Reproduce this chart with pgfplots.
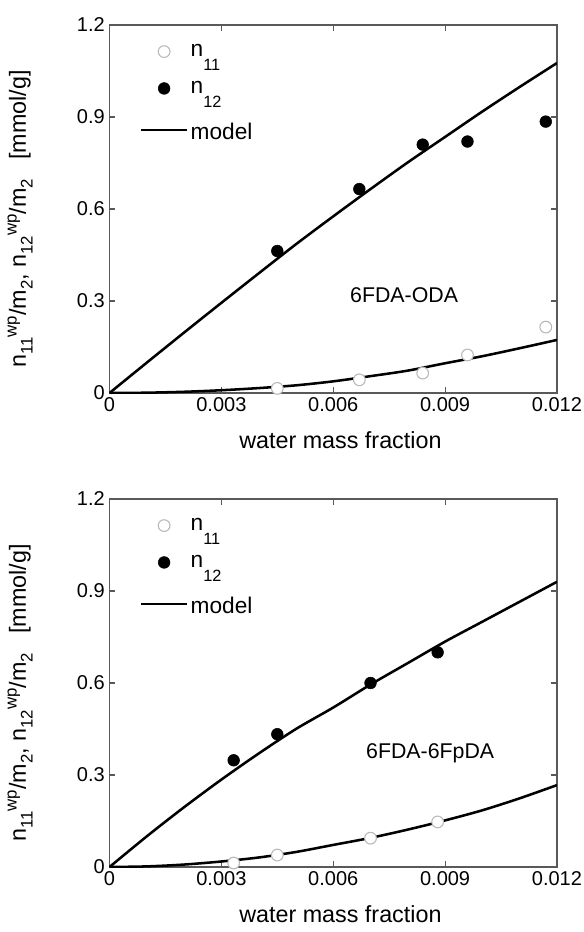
\documentclass[border=0pt]{standalone}
\usepackage{fontspec}
\setmainfont{Liberation Sans}
\newfontfamily\serifb{Liberation Serif}
\usepackage{graphicx}
\usepackage{pgfplots}
\pgfplotsset{compat=1.18}
\newcommand\sbs[1]{\raisebox{-0.55ex}{\scalebox{0.72}{#1}}}
\newcommand\sps[1]{\raisebox{0.75ex}{\scalebox{0.72}{#1}}}
\newcommand\lsb[1]{\raisebox{-0.62em}{\scalebox{0.72}{#1}}}
\pgfplotsset{
 panel/.style={
  width=335.6pt, height=276pt, scale only axis,
  xmin=0, xmax=0.012, ymin=0, ymax=1.2,
  xtick={0,0.003,0.006,0.009,0.012},
  xticklabels={0,0.003,0.006,0.009,0.012},
  ytick={0,0.3,0.6,0.9,1.2},
  yticklabels={0,0.3,0.6,0.9,1.2},
  scaled x ticks=false,
  tick align=inside, major tick length=4.5pt,
  axis line style={black!65, line width=0.9pt},
  every tick/.style={black!65, line width=0.9pt},
  tick label style={font=\fontsize{15}{18}\selectfont},
  label style={font=\fontsize{17.5}{21}\selectfont},
  xlabel={water mass fraction},
  ylabel={n\sbs{11}\sps{wp}/m\sbs{2}, n\sbs{12}\sps{wp}/m\sbs{2}~~~[mmol/g]},
  xlabel style={at={(axis description cs:0.516,-0.128)}, anchor=center},
  ylabel style={at={(axis description cs:-0.2,0.473)}, anchor=center},
  legend style={draw=none, fill=none, inner sep=0pt, at={(axis description cs:0.068,0.955)}, anchor=north west,
     font=\fontsize{17}{20}\selectfont, row sep=13pt},
  legend cell align=left,
 },
 openm/.style={only marks, mark=*, mark size=4.4pt, mark options={draw=black!28, fill=white, line width=0.8pt},
   legend image code/.code={\draw[mark repeat=2, mark phase=2, ##1] plot coordinates {(0pt,0pt) (17pt,0pt) (34pt,0pt)};}},
 fullm/.style={only marks, mark=*, mark size=4.4pt, mark options={draw=black, fill=black},
   legend image code/.code={\draw[mark repeat=2, mark phase=2, ##1] plot coordinates {(0pt,0pt) (17pt,0pt) (34pt,0pt)};}},
 modl/.style={black, line width=1.9pt, smooth, no marks,
   legend image code/.code={\draw[##1] (0pt,0pt) -- (34pt,0pt);}},
}
\begin{document}
\begin{tikzpicture}
\useasboundingbox (-82.125pt,294.75pt) rectangle (355.125pt,-404.25pt);
\begin{axis}[panel, at={(0pt,0pt)}, anchor=south west]
\addplot[openm] coordinates {(0.0045,0.015) (0.0067,0.043) (0.0084,0.065) (0.0096,0.124) (0.0117,0.215)};
\addlegendentry{n\lsb{11}}
\addplot[fullm] coordinates {(0.0045,0.463) (0.0067,0.665) (0.0084,0.81) (0.0096,0.82) (0.0117,0.885)};
\addlegendentry{n\lsb{12}}
\addplot[modl] coordinates {(0,0) (0.001,0.099) (0.002,0.197) (0.003,0.294) (0.004,0.39) (0.005,0.485) (0.006,0.576) (0.007,0.665) (0.008,0.752) (0.009,0.835) (0.010,0.918) (0.011,0.998) (0.012,1.076)};
\addlegendentry{\rule{0pt}{16pt}model}
\addplot[modl, forget plot] coordinates {(0,0) (0.001,0.001) (0.002,0.004) (0.003,0.009) (0.004,0.016) (0.005,0.025) (0.006,0.038) (0.007,0.055) (0.008,0.073) (0.009,0.097) (0.010,0.12) (0.011,0.146) (0.012,0.173)};
\node[font=\serifb\bfseries\fontsize{18}{21}\selectfont] at (axis description cs:-0.19,1.005) {(a)};
\node[font=\fontsize{16}{19}\selectfont] at (axis cs:0.0079,0.32) {6FDA-ODA};
\end{axis}
\begin{axis}[panel, at={(0pt,-355.5pt)}, anchor=south west]
\addplot[openm] coordinates {(0.00333,0.013) (0.0045,0.039) (0.007,0.094) (0.0088,0.147)};
\addlegendentry{n\lsb{11}}
\addplot[fullm] coordinates {(0.00333,0.348) (0.0045,0.433) (0.007,0.600) (0.0088,0.700)};
\addlegendentry{n\lsb{12}}
\addplot[modl] coordinates {(0,0) (0.001,0.1) (0.002,0.195) (0.003,0.285) (0.004,0.37) (0.005,0.45) (0.006,0.52) (0.007,0.595) (0.008,0.665) (0.009,0.735) (0.010,0.80) (0.011,0.865) (0.012,0.93)};
\addlegendentry{\rule{0pt}{16pt}model}
\addplot[modl, forget plot] coordinates {(0,0) (0.001,0.002) (0.002,0.008) (0.003,0.018) (0.004,0.031) (0.005,0.049) (0.006,0.072) (0.007,0.095) (0.008,0.122) (0.009,0.152) (0.010,0.185) (0.011,0.224) (0.012,0.267)};
\node[font=\serifb\bfseries\fontsize{18}{21}\selectfont] at (axis description cs:-0.19,1.005) {(b)};
\node[font=\fontsize{16}{19}\selectfont] at (axis cs:0.0086,0.372) {6FDA-6FpDA};
\end{axis}
\end{tikzpicture}
\end{document}
